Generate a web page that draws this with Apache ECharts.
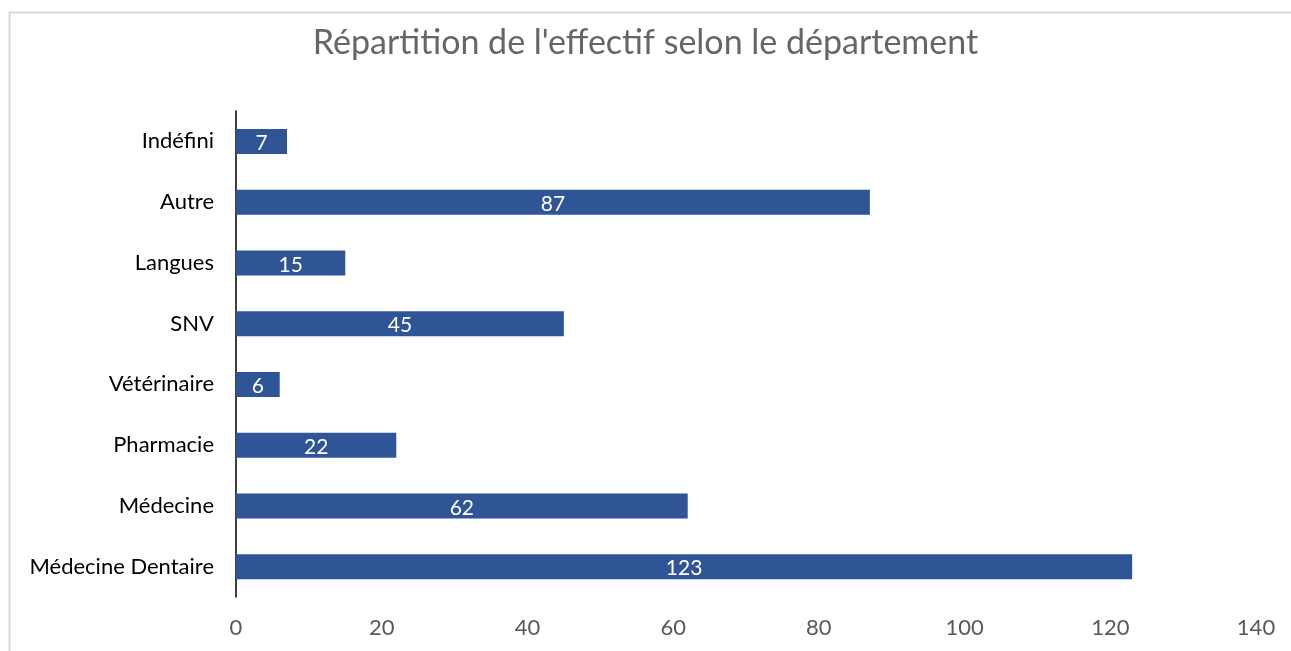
<!DOCTYPE html>
<html><head><meta charset="utf-8">
<script src="https://cdn.jsdelivr.net/npm/echarts@6/dist/echarts.min.js"></script>
<style>html,body{margin:0;padding:0;background:#fff}#c{width:1291px;height:651px}</style>
</head><body><div id="c"></div>
<script>
const titleText = "Répartition de l'effectif selon le département";
const categories = ['Médecine Dentaire','Médecine','Pharmacie','Vétérinaire','SNV','Langues','Autre','Indéfini'];
const values = [123, 62, 22, 6, 45, 15, 87, 7];
const xTicks = [0, 20, 40, 60, 80, 100, 120, 140];

const FONT = 'Lato, "Open Sans", "Noto Sans", sans-serif';
const chart = echarts.init(document.getElementById('c'));
chart.setOption({
  animation: false,
  backgroundColor: '#fff',
  title: {
    text: titleText, left: 'center', top: 21,
    textStyle: { fontFamily: FONT, fontSize: 34, fontWeight: 'normal', color: '#666666' }
  },
  graphic: [{
    type: 'polyline', silent: true,
    shape: { points: [[9.5, 651], [9.5, 12.5], [1291, 12.5]] },
    style: { stroke: '#d9d9d9', lineWidth: 2, fill: null }
  }],
  grid: { left: 236, right: 35, top: 111, bottom: 54, containLabel: false },
  xAxis: {
    type: 'value', min: xTicks[0], max: xTicks[xTicks.length - 1], interval: 20,
    axisLine: { show: false }, axisTick: { show: false }, splitLine: { show: false },
    axisLabel: { fontFamily: FONT, fontSize: 22, color: '#595959', margin: 20 }
  },
  yAxis: {
    type: 'category', data: categories,
    axisLine: { show: true, lineStyle: { color: '#000', width: 1.5 } },
    axisTick: { show: false },
    axisLabel: { fontFamily: FONT, fontSize: 22, color: '#000', margin: 22 }
  },
  series: [{
    type: 'bar', data: values, barWidth: 25,
    itemStyle: { color: '#2F5597' },
    label: { show: true, position: 'inside', offset: [0, 2], color: '#fff', fontFamily: FONT, fontSize: 21 }
  }]
});
</script></body></html>
